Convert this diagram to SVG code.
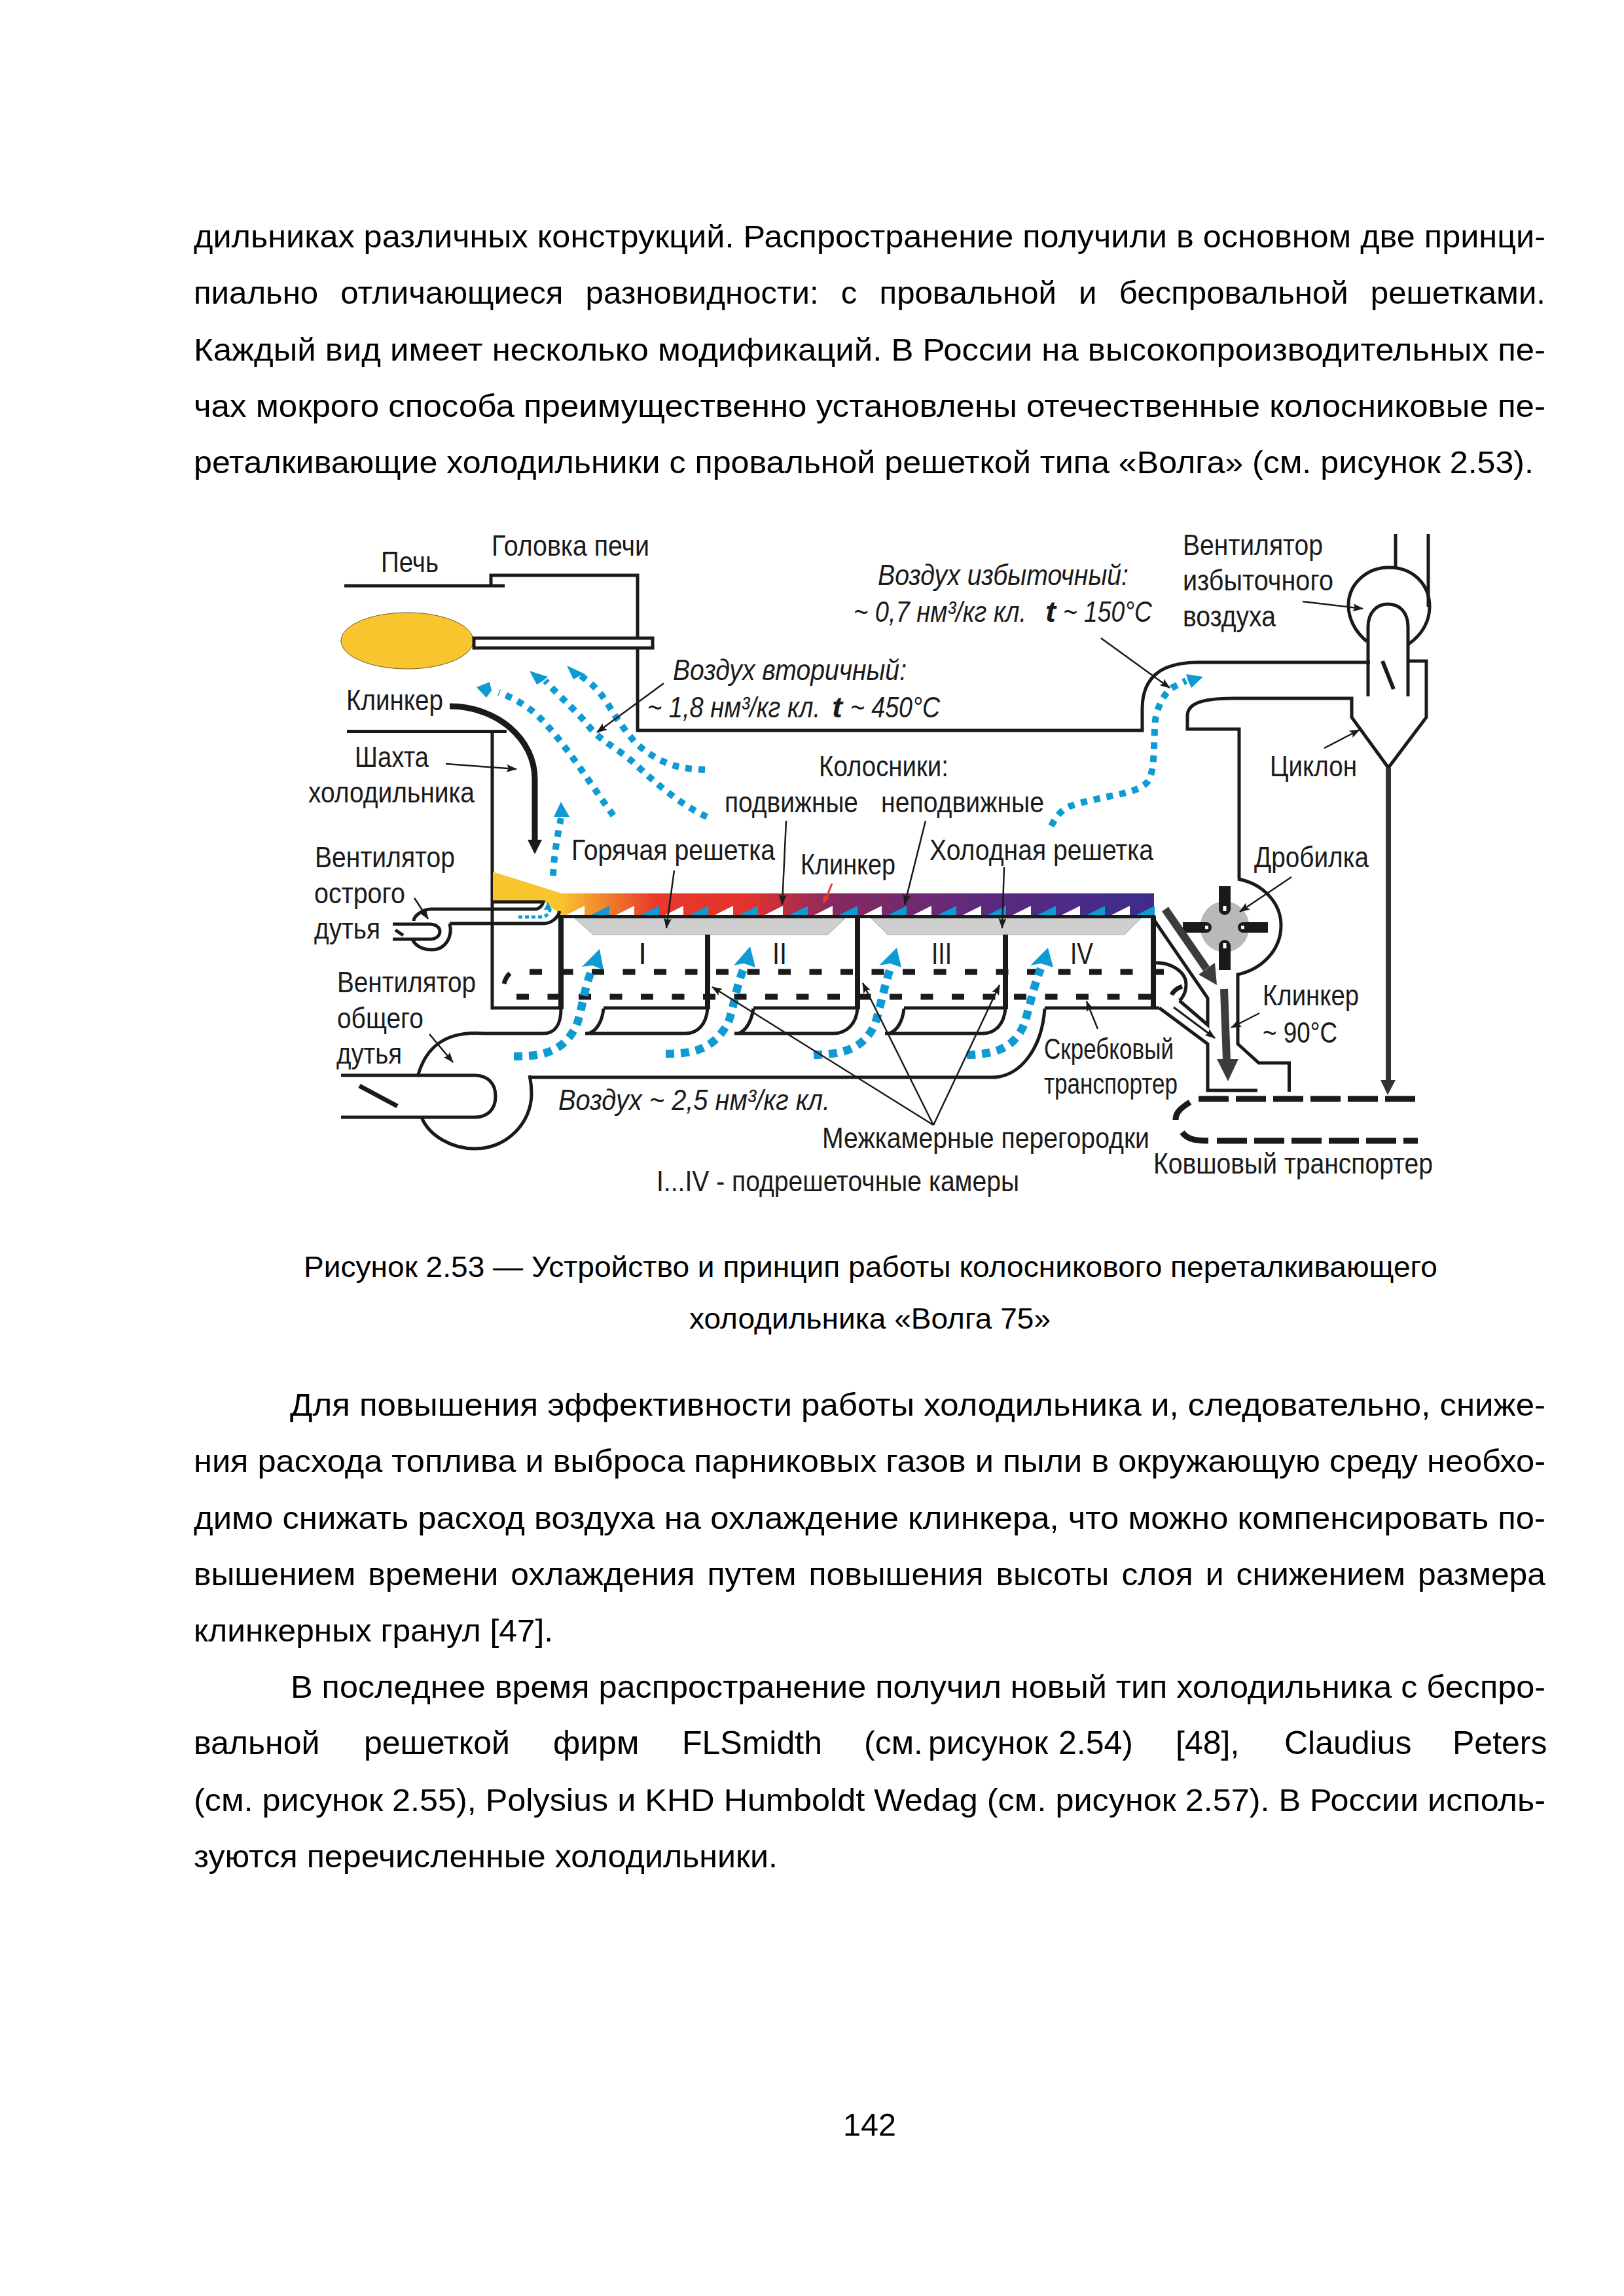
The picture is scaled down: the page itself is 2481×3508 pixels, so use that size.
<svg xmlns="http://www.w3.org/2000/svg" width="2481" height="3508" viewBox="0 0 2481 3508">
<style>
text{font-family:"Liberation Sans",Arial,sans-serif;fill:#000}
.p{font-size:48px}
.c{font-size:44px}
.l{font-size:45px;fill:#1a1a1a}
.r{font-size:47px;fill:#1a1a1a}
.i{font-style:italic}
.b{font-weight:bold}
.k{fill:none;stroke:#1a1a1a;stroke-width:5}
.k7{fill:none;stroke:#1a1a1a;stroke-width:8}
.ar{fill:none;stroke:#1a1a1a;stroke-width:2.5;marker-end:url(#ah)}
.air{fill:none;stroke:#0E9BD3;stroke-width:10;stroke-dasharray:10 10}
.air2{fill:none;stroke:#0E9BD3;stroke-width:12.5;stroke-dasharray:13 10}
.hb{fill:#0E9BD3}
.d{fill:none;stroke:#1a1a1a;stroke-width:9;stroke-dasharray:19 28.5}
.bk{fill:none;stroke:#1a1a1a;stroke-width:9;stroke-dasharray:46 11}
.g{fill:none;stroke:#3c3c3c;stroke-width:12}
.tr{fill:#CFCFCF;stroke:#a8a8a8;stroke-width:1}
</style>
<defs>
<marker id="ah" markerUnits="userSpaceOnUse" markerWidth="16" markerHeight="12" refX="15" refY="6" orient="auto"><path d="M0 0L16 6L0 12L3 6z" fill="#1a1a1a"/></marker>
<linearGradient id="heat" gradientUnits="userSpaceOnUse" x1="855" y1="0" x2="1763" y2="0">
<stop offset="0" stop-color="#F9C52F"/><stop offset=".16" stop-color="#E8392B"/><stop offset=".32" stop-color="#E2332E"/><stop offset=".46" stop-color="#87295F"/><stop offset=".72" stop-color="#5B2A7F"/><stop offset="1" stop-color="#3D2C8D"/>
</linearGradient>
</defs>
<rect width="2481" height="3508" fill="#fff"/>

<g id="page-text-top">
<text class="p" x="296" y="378" textLength="2065" lengthAdjust="spacingAndGlyphs">дильниках различных конструкций. Распространение получили в основном две принци-</text>
<text class="p" x="296" y="464" textLength="2065" word-spacing="20" lengthAdjust="spacingAndGlyphs">пиально отличающиеся разновидности: с провальной и беспровальной решетками.</text>
<text class="p" x="296" y="551" textLength="2065" lengthAdjust="spacingAndGlyphs">Каждый вид имеет несколько модификаций. В России на высокопроизводительных пе-</text>
<text class="p" x="296" y="637" textLength="2065" lengthAdjust="spacingAndGlyphs">чах мокрого способа преимущественно установлены отечественные колосниковые пе-</text>
<text class="p" x="296" y="723" textLength="2047" lengthAdjust="spacingAndGlyphs">реталкивающие холодильники с провальной решеткой типа «Волга» (см. рисунок 2.53).</text>
</g>

<g id="figure-base">
<ellipse id="flame" cx="622" cy="979" rx="101" ry="43" fill="#F9C52F" stroke="#6b5a20" stroke-width="1"/>
<path d="M526 895H771M750 895V879H974V1116H1745V1083C1745 1030 1780 1012 1830 1012H2093M2151 1010H2179V1096L2121 1173L2065 1096V1067H1884C1835 1067 1814 1075 1814 1094V1114H1893V1343" class="k"/>
<rect x="724" y="975" width="273" height="15" fill="#fff" stroke="#1a1a1a" stroke-width="5"/>
<path d="M530 1117.500H774M752 1117V1540H857" class="k"/>
<path id="hot-wedge" d="M753 1332L855 1364V1396L830 1377H753z" fill="#F9C52F"/>
<rect id="grate-band" x="855" y="1365" width="908" height="33" fill="url(#heat)"/>
<path fill="#fff" d="M865 1398L893 1384V1398zM941 1398L969 1384V1398zM1016 1398L1044 1384V1398zM1092 1398L1120 1384V1398zM1168 1398L1196 1384V1398zM1244 1398L1272 1384V1398zM1319 1398L1347 1384V1398zM1395 1398L1423 1384V1398zM1471 1398L1499 1384V1398zM1547 1398L1575 1384V1398zM1622 1398L1650 1384V1398zM1698 1398L1726 1384V1398z"/>
<path fill="#0E9BD3" d="M903 1398L931 1384V1398zM979 1398L1007 1384V1398zM1054 1398L1082 1384V1398zM1130 1398L1158 1384V1398zM1206 1398L1234 1384V1398zM1282 1398L1310 1384V1398zM1357 1398L1385 1384V1398zM1433 1398L1461 1384V1398zM1509 1398L1537 1384V1398zM1585 1398L1613 1384V1398zM1660 1398L1688 1384V1398zM1736 1398L1764 1384V1398z"/>
<path d="M878 1403L906 1428H1265L1291 1403z" class="tr"/>
<path d="M1331 1403L1356 1428H1718L1743 1403z" class="tr"/>
<path d="M857 1400.500H1765" class="k"/>
<path d="M857 1398V1542M1081 1428V1542M1310 1400V1542M1536 1428V1542M1762 1400V1542" class="k7"/>
<path d="M809 1485H1785" class="d"/>
<path d="M789 1523H1762" class="d"/>
<path d="M779 1487Q772 1494 770 1503" class="k" style="stroke-width:7"/>
<path d="M922 1540H1081M1151 1540H1310M1381 1540H1536M1596 1540H1771" class="k"/>
<path d="M857 1541C857 1565 848 1579 830 1579H740C680 1574 650 1600 638 1645" class="k"/>
<path d="M922 1541C920 1560 912 1575 899 1579H894H1047C1066 1579 1079 1565 1081 1541" class="k"/>
<path d="M1151 1541C1148 1560 1140 1575 1128 1579H1122H1273C1293 1579 1308 1565 1310 1541" class="k"/>
<path d="M1381 1541C1379 1560 1371 1575 1358 1579H1352H1502C1520 1579 1534 1565 1536 1541" class="k"/>
<path d="M812 1646H1515C1560 1646 1592 1600 1596 1541" class="k"/>
<g id="fan-general">
<path d="M521 1643H725C745 1643 757 1655 757 1675C757 1695 745 1707 725 1707H521" class="k"/>
<path d="M644 1707C655 1735 690 1755 725 1755C775 1755 812 1715 812 1671C812 1662 811 1652 809 1643" class="k"/>
<path d="M549 1659L607 1690" class="k" style="stroke-width:7"/>
</g>
<g id="fan-sharp">
<path d="M753 1378H830Q828 1386 820 1389H659C645 1389 632 1400 632 1407" class="k"/>
<path d="M687 1411H830C842 1411 852 1403 855 1392" class="k"/>
<path d="M600 1412H656C666 1412 672 1417 672 1423C672 1430 666 1435 656 1435H600" class="k"/>
<path d="M687 1411C692 1432 680 1451 660 1451C645 1451 634 1445 630 1435" class="k"/>
<path d="M604 1421L616 1429" class="k"/>
</g>
<g id="fan-exhaust">
<path d="M2088 980C2070 965 2060 945 2060 925C2060 892 2088 867 2122 867C2158 867 2184 892 2184 927C2184 950 2172 970 2152 984" class="k"/>
<path d="M2132 816V867M2182 816V927" class="k"/>
<path d="M2090 1064V958C2090 935 2104 923 2120 923C2138 923 2151 935 2151 958V1064" class="k"/>
<path d="M2112 1010L2129 1053" class="k" style="stroke-width:6"/>
</g>
<g id="crusher">
<path d="M1891 1343C1930 1350 1957 1380 1957 1414C1957 1450 1930 1480 1891 1489V1595L1923 1624H1969.500V1668" class="k"/>
<ellipse cx="1871" cy="1416" rx="37.500" ry="39" fill="#B9B9B9"/>
<path d="M1862 1354H1880V1389A9 9 0 0 1 1862 1389zM1862 1482H1880V1445A9 9 0 0 0 1862 1445zM1807 1409H1843A8 8 0 0 1 1843 1425H1807zM1937 1409H1899A8 8 0 0 0 1899 1425H1937z" fill="#1a1a1a"/>
<path d="M1871 1384V1392M1871 1441V1449M1841 1417H1846M1896 1417H1901" stroke="#fff" stroke-width="5" fill="none"/>
</g>
<g id="chute">
<path d="M1762 1404L1845 1525V1566L1802 1529" class="k"/>
<path d="M1766 1471C1790 1471 1812 1485 1812 1504C1812 1515 1808 1523 1802 1529" class="k"/>
<path d="M1771 1540L1845 1595V1666H1921" class="k"/>
<path d="M1806 1507Q1793 1512 1790 1520" class="k" style="stroke-width:7"/>
<path d="M1793 1539L1856 1586" class="ar" style="stroke-width:3"/>
</g>
<g id="bucket-conveyor">
<path d="M1831 1679H2162" class="bk"/>
<path d="M1859 1743H2166" class="bk"/>
<path d="M1818 1684C1800 1695 1796 1702 1796 1711" class="k" style="stroke-width:9"/>
<path d="M1806 1730C1812 1738 1820 1743 1846 1743" class="k" style="stroke-width:9"/>
</g>
<path d="M2121 1173V1652" fill="none" stroke="#333" stroke-width="8"/>
<path d="M2109 1650H2132L2120 1673z" fill="#333"/>
</g>

<g id="connectors">
<path d="M687 1079C760 1079 817 1130 817 1190V1285" fill="none" stroke="#1a1a1a" stroke-width="9"/>
<path d="M806 1283H828L817 1305z" fill="#1a1a1a"/>
<path d="M937 1246C900 1195 860 1130 820 1092C800 1075 785 1067 762 1058" class="air"/><path d="M728 1050L748 1042L751 1055L743 1066z" class="hb"/>
<path d="M1080 1248C1040 1230 1000 1195 970 1167C940 1140 920 1135 899 1109C875 1080 860 1070 833 1040" class="air"/><path d="M809 1025L837 1034L830 1040L820 1046z" class="hb"/>
<path d="M1077 1176C1050 1175 1035 1172 1019 1166C1000 1158 985 1148 970 1134C950 1110 940 1095 927 1073C915 1055 905 1045 884 1030" class="air"/><path d="M866 1017L894 1030L885 1033L876 1038z" class="hb"/>
<path d="M845 1338C846 1310 851 1280 857 1250" class="air"/><path d="M857 1225L870 1248H846z" class="hb"/>
<path d="M1606 1262C1612 1250 1620 1238 1634 1232C1680 1215 1745 1215 1756 1190C1765 1170 1762 1130 1765 1100C1768 1080 1778 1060 1790 1051L1812 1040" class="air"/><path d="M1838 1034L1812 1030L1815 1040L1820 1051z" class="hb"/>
<path d="M792 1401H825Q840 1400 840 1389" class="air" style="stroke-width:5;stroke-dasharray:6 4"/><path d="M837 1378L843 1390H831z" class="hb"/>
<path d="M785 1614C825 1614 860 1610 881 1566C890 1540 892 1510 905 1480" class="air2"/><path d="M916 1450L922 1482L905 1475L889 1477z" class="hb"/>
<path d="M1017 1610C1055 1610 1090 1606 1113 1561C1122 1535 1124 1510 1136 1480" class="air2"/><path d="M1146 1446L1154 1478L1136 1472L1121 1475z" class="hb"/>
<path d="M1243 1612C1285 1610 1318 1606 1337 1564C1346 1535 1350 1510 1360 1480" class="air2"/><path d="M1370 1448L1377 1478L1360 1472L1343 1475z" class="hb"/>
<path d="M1477 1612C1515 1610 1548 1606 1565 1564C1574 1535 1578 1510 1590 1480" class="air2"/><path d="M1601 1448L1609 1478L1590 1472L1574 1475z" class="hb"/>
<path d="M1780 1389L1843 1480" class="g"/><path d="M1859 1505L1831 1489L1856 1471z" fill="#3c3c3c"/>
<path d="M1870 1511L1874 1620" class="g"/><path d="M1859 1618H1892L1876 1652z" fill="#3c3c3c"/>
<path d="M1014 1044L912 1119" class="ar"/>
<path d="M681 1167L789 1175" class="ar"/>
<path d="M1682 975L1787 1051" class="ar"/>
<path d="M1990 919L2082 930" class="ar"/>
<path d="M2023 1143L2077 1115" class="ar"/>
<path d="M1201 1254L1195 1382" class="ar"/>
<path d="M1414 1254L1382 1382" class="ar"/>
<path d="M1534 1325L1531 1418" class="ar"/>
<path d="M1030 1330L1018 1418" class="ar"/>
<path d="M1271 1350L1260 1378" fill="none" stroke="#E8392B" stroke-width="3"/><path d="M1257 1380L1258 1368L1267 1372z" fill="#E8392B"/>
<path d="M633 1372L654 1404" class="ar"/>
<path d="M656 1580L692 1623" class="ar"/>
<path d="M1426 1719L1088 1508" class="ar"/>
<path d="M1426 1719L1318 1502" class="ar"/>
<path d="M1426 1719L1527 1505" class="ar"/>
<path d="M1677 1572L1660 1530" class="ar"/>
<path d="M1924 1548L1881 1570" class="ar"/>
<path d="M1973 1340L1894 1393" class="ar"/>
</g>

<g id="labels">
<text class="l" x="582" y="874" textLength="88" lengthAdjust="spacingAndGlyphs">Печь</text>
<text class="l" x="751" y="849" textLength="241" lengthAdjust="spacingAndGlyphs">Головка печи</text>
<text class="l" x="529" y="1085" textLength="148" lengthAdjust="spacingAndGlyphs">Клинкер</text>
<text class="l" x="542" y="1172" textLength="113" lengthAdjust="spacingAndGlyphs">Шахта</text>
<text class="l" x="471" y="1226" textLength="254" lengthAdjust="spacingAndGlyphs">холодильника</text>
<text class="l" x="481" y="1325" textLength="214" lengthAdjust="spacingAndGlyphs">Вентилятор</text>
<text class="l" x="480" y="1380" textLength="139" lengthAdjust="spacingAndGlyphs">острого</text>
<text class="l" x="480" y="1434" textLength="101" lengthAdjust="spacingAndGlyphs">дутья</text>
<text class="l" x="515" y="1516" textLength="212" lengthAdjust="spacingAndGlyphs">Вентилятор</text>
<text class="l" x="515" y="1571" textLength="132" lengthAdjust="spacingAndGlyphs">общего</text>
<text class="l" x="514" y="1625" textLength="100" lengthAdjust="spacingAndGlyphs">дутья</text>
<text class="l i" x="1028" y="1039" textLength="357" lengthAdjust="spacingAndGlyphs">Воздух вторичный:</text>
<text class="l i" x="989" y="1096" textLength="264" lengthAdjust="spacingAndGlyphs">~ 1,8 нм³/кг кл.</text>
<text class="l i b" x="1271" y="1096" textLength="16" lengthAdjust="spacingAndGlyphs">t</text>
<text class="l i" x="1299" y="1096" textLength="137" lengthAdjust="spacingAndGlyphs">~ 450°C</text>
<text class="l i" x="1341" y="894" textLength="383" lengthAdjust="spacingAndGlyphs">Воздух избыточный:</text>
<text class="l i" x="1304" y="950" textLength="264" lengthAdjust="spacingAndGlyphs">~ 0,7 нм³/кг кл.</text>
<text class="l i b" x="1597" y="950" textLength="16" lengthAdjust="spacingAndGlyphs">t</text>
<text class="l i" x="1624" y="950" textLength="136" lengthAdjust="spacingAndGlyphs">~ 150°C</text>
<text class="l" x="1807" y="848" textLength="214" lengthAdjust="spacingAndGlyphs">Вентилятор</text>
<text class="l" x="1807" y="902" textLength="230" lengthAdjust="spacingAndGlyphs">избыточного</text>
<text class="l" x="1807" y="957" textLength="142" lengthAdjust="spacingAndGlyphs">воздуха</text>
<text class="l" x="1251" y="1186" textLength="198" lengthAdjust="spacingAndGlyphs">Колосники:</text>
<text class="l" x="1107" y="1241" textLength="204" lengthAdjust="spacingAndGlyphs">подвижные</text>
<text class="l" x="1346" y="1241" textLength="249" lengthAdjust="spacingAndGlyphs">неподвижные</text>
<text class="l" x="873" y="1314" textLength="311" lengthAdjust="spacingAndGlyphs">Горячая решетка</text>
<text class="l" x="1223" y="1336" textLength="145" lengthAdjust="spacingAndGlyphs">Клинкер</text>
<text class="l" x="1420" y="1314" textLength="342" lengthAdjust="spacingAndGlyphs">Холодная решетка</text>
<text class="l" x="1940" y="1186" textLength="133" lengthAdjust="spacingAndGlyphs">Циклон</text>
<text class="l" x="1916" y="1325" textLength="175" lengthAdjust="spacingAndGlyphs">Дробилка</text>
<text class="r" x="975" y="1473">I</text>
<text class="r" x="1180" y="1473" textLength="22" lengthAdjust="spacingAndGlyphs">II</text>
<text class="r" x="1423" y="1473" textLength="31" lengthAdjust="spacingAndGlyphs">III</text>
<text class="r" x="1635" y="1473" textLength="35" lengthAdjust="spacingAndGlyphs">IV</text>
<text class="l" x="1929" y="1536" textLength="147" lengthAdjust="spacingAndGlyphs">Клинкер</text>
<text class="l" x="1929" y="1593" textLength="114" lengthAdjust="spacingAndGlyphs">~ 90°C</text>
<text class="l" x="1595" y="1618" textLength="198" lengthAdjust="spacingAndGlyphs">Скребковый</text>
<text class="l" x="1595" y="1671" textLength="204" lengthAdjust="spacingAndGlyphs">транспортер</text>
<text class="l i" x="853" y="1696" textLength="415" lengthAdjust="spacingAndGlyphs">Воздух  ~ 2,5 нм³/кг кл.</text>
<text class="l" x="1256" y="1754" textLength="500" lengthAdjust="spacingAndGlyphs">Межкамерные перегородки</text>
<text class="l" x="1762" y="1793" textLength="427" lengthAdjust="spacingAndGlyphs">Ковшовый транспортер</text>
<text class="l" x="1003" y="1820" textLength="554" lengthAdjust="spacingAndGlyphs">I...IV - подрешеточные камеры</text>
</g>

<g id="caption">
<text class="c" x="464" y="1951" textLength="1732" lengthAdjust="spacingAndGlyphs">Рисунок 2.53 — Устройство и принцип работы колосникового переталкивающего</text>
<text class="c" x="1053" y="2030" textLength="552" lengthAdjust="spacingAndGlyphs">холодильника «Волга 75»</text>
</g>

<g id="page-text-bottom">
<text class="p" x="443" y="2163" textLength="1918" lengthAdjust="spacingAndGlyphs">Для повышения эффективности работы холодильника и, следовательно, сниже-</text>
<text class="p" x="296" y="2249" textLength="2065" lengthAdjust="spacingAndGlyphs">ния расхода топлива и выброса парниковых газов и пыли в окружающую среду необхо-</text>
<text class="p" x="296" y="2336" textLength="2065" lengthAdjust="spacingAndGlyphs">димо снижать расход воздуха на охлаждение клинкера, что можно компенсировать по-</text>
<text class="p" x="296" y="2422" textLength="2065" word-spacing="5" lengthAdjust="spacingAndGlyphs">вышением времени охлаждения путем повышения высоты слоя и снижением размера</text>
<text class="p" x="296" y="2508" textLength="549" lengthAdjust="spacingAndGlyphs">клинкерных гранул [47].</text>
<text class="p" x="444" y="2594" textLength="1917" lengthAdjust="spacingAndGlyphs">В последнее время распространение получил новый тип холодильника с беспро-</text>
<text class="p" y="2680" style="font-size:50px"><tspan x="296">вальной</tspan><tspan x="556">решеткой</tspan><tspan x="845">фирм</tspan><tspan x="1042">FLSmidth</tspan><tspan x="1320">(см.</tspan><tspan x="1418">рисунок</tspan><tspan x="1617">2.54)</tspan><tspan x="1796">[48],</tspan><tspan x="1962">Claudius</tspan><tspan x="2219">Peters</tspan></text>
<text class="p" x="296" y="2767" textLength="2065" lengthAdjust="spacingAndGlyphs">(см. рисунок 2.55), Polysius и KHD Humboldt Wedag (см. рисунок 2.57). В России исполь-</text>
<text class="p" x="296" y="2853" textLength="892" lengthAdjust="spacingAndGlyphs">зуются перечисленные холодильники.</text>
<text class="p" x="1288" y="3263" textLength="81" lengthAdjust="spacingAndGlyphs">142</text>
</g>
</svg>
